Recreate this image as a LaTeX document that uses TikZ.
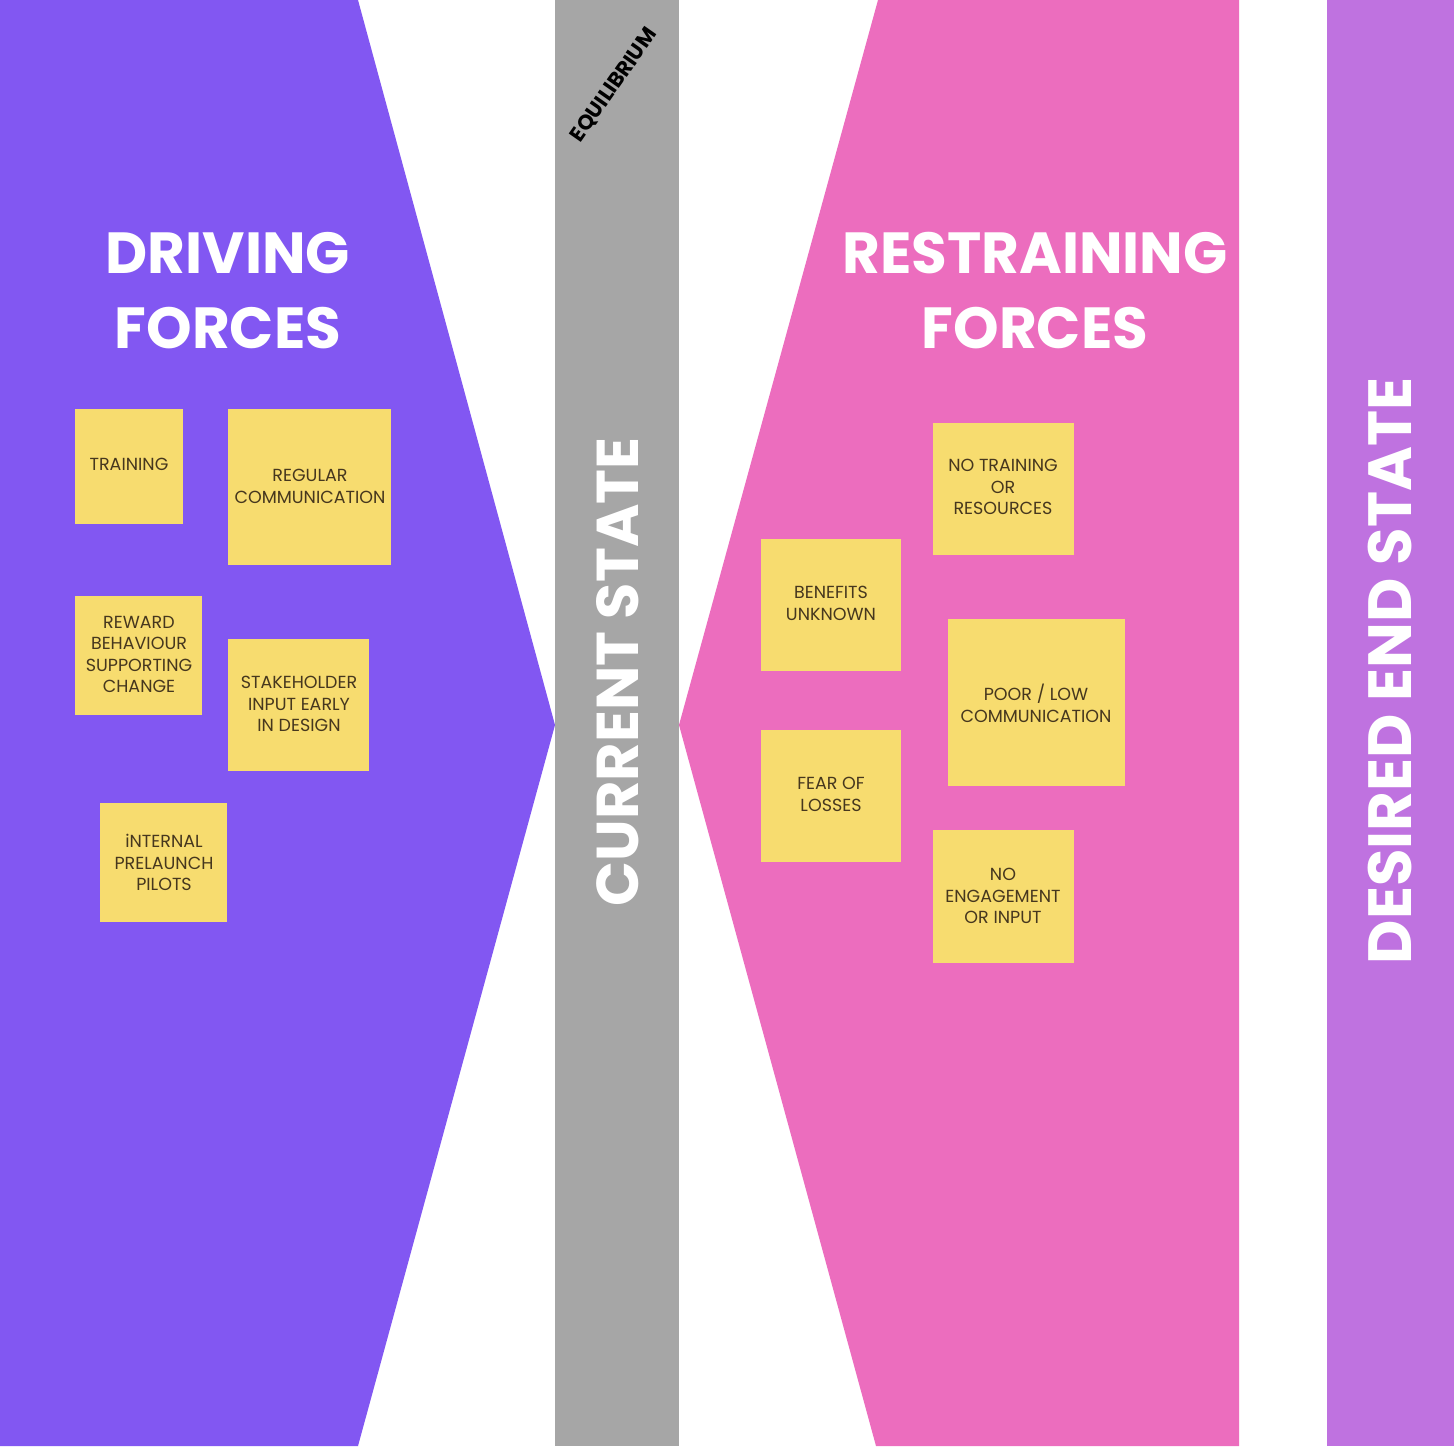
\documentclass[tikz,border=0pt]{standalone}
\usepackage{fontspec}
\setmainfont{Poppins}
\definecolor{drivepurple}{RGB}{130,87,242}
\definecolor{restrainpink}{RGB}{236,109,190}
\definecolor{lilac}{RGB}{191,114,224}
\definecolor{eqgray}{RGB}{166,166,166}
\definecolor{stickyyellow}{RGB}{247,220,111}
\definecolor{stickytext}{RGB}{70,55,30}
\begin{document}
\begin{tikzpicture}[x=1pt,y=-1pt,
  sticky/.style={fill=stickyyellow,draw=none,anchor=north west,inner sep=0pt},
  stxt/.style={text=stickytext,font=\fontsize{17.5}{21.5}\selectfont,align=center,inner sep=0pt,anchor=north},
  title/.style={text=white,font=\fontsize{58}{75}\selectfont\bfseries,align=center,inner sep=0pt},
  bigv/.style={text=white,font=\fontsize{#1}{62}\selectfont\bfseries,rotate=90,inner sep=0pt}]
\fill[white] (0,0) rectangle (1454,1446);
\useasboundingbox (0,0) rectangle (1454,1446);
% regions
\fill[drivepurple] (0,0) -- (358,0) -- (555,725) -- (358,1446) -- (0,1446) -- cycle;
\fill[eqgray] (555,0) rectangle (679,1446);
\fill[restrainpink] (878,0) -- (1239,0) -- (1239,1446) -- (876,1446) -- (679,725) -- cycle;
\fill[lilac] (1327,0) rectangle (1454,1446);
% titles
\node[title] (driving) at (228,291) {DRIVING\\FORCES};
\node[title] (restraining) at (1035,291) {RESTRAINING\\FORCES};
\node[bigv=59] (current) at (618,672) {CURRENT STATE};
\node[bigv=61] (desired) at (1390,671) {DESIRED END STATE};
\node[text=black,font=\fontsize{21}{24}\selectfont\bfseries,rotate=55,inner sep=0pt] (equil) at (614,85) {EQUILIBRIUM};
% driving stickies
\node[sticky,minimum width=108,minimum height=115] (s1) at (75,409) {};
\node[stxt] (t1) at (129,458) {TRAINING};
\node[sticky,minimum width=163,minimum height=156] (s2) at (228,409) {};
\node[stxt] (t2) at (310,469) {REGULAR\\COMMUNICATION};
\node[sticky,minimum width=127,minimum height=119] (s3) at (75,596) {};
\node[stxt] (t3) at (139,616) {REWARD\\BEHAVIOUR\\SUPPORTING\\CHANGE};
\node[sticky,minimum width=141,minimum height=132] (s4) at (228,639) {};
\node[stxt] (t4) at (299,676) {STAKEHOLDER\\INPUT EARLY\\IN DESIGN};
\node[sticky,minimum width=127,minimum height=119] (s5) at (100,803) {};
\node[stxt] (t5) at (164,834) {iNTERNAL\\PRELAUNCH\\PILOTS};
% restraining stickies
\node[sticky,minimum width=141,minimum height=132] (r1) at (933,423) {};
\node[stxt] (u1) at (1003,459) {NO TRAINING\\OR\\RESOURCES};
\node[sticky,minimum width=140,minimum height=132] (r2) at (761,539) {};
\node[stxt] (u2) at (831,586) {BENEFITS\\UNKNOWN};
\node[sticky,minimum width=177,minimum height=167] (r3) at (948,619) {};
\node[stxt] (u3) at (1036,684) {POOR / LOW\\COMMUNICATION};
\node[sticky,minimum width=140,minimum height=132] (r4) at (761,730) {};
\node[stxt] (u4) at (831,777) {FEAR OF\\LOSSES};
\node[sticky,minimum width=141,minimum height=133] (r5) at (933,830) {};
\node[stxt] (u5) at (1003,868) {NO\\ENGAGEMENT\\OR INPUT};
\end{tikzpicture}
\end{document}
